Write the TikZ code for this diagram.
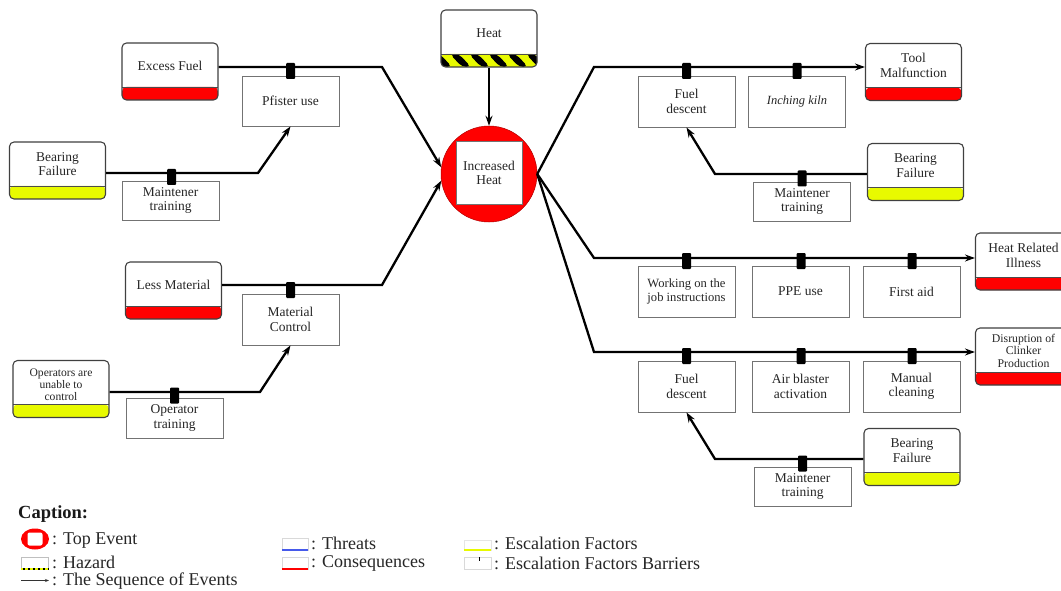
\documentclass[tikz,border=0pt]{standalone}
\usepackage{fontspec}
\setmainfont{Liberation Serif}
\usetikzlibrary{arrows.meta,calc,shapes.geometric}
\definecolor{hzyellow}{RGB}{232,250,0}
\definecolor{cred}{RGB}{255,0,0}
\definecolor{tblue}{RGB}{70,90,235}
\begin{document}
\begin{tikzpicture}[x=1pt,y=-1pt,
  txt/.style={font=\fontsize{13.5}{14.5}\selectfont, align=center, text=black!85, inner sep=0pt},
  smalltxt/.style={font=\fontsize{11.6}{12}\selectfont, align=center, text=black!85, inner sep=0pt},
  evbox/.style={draw=black!75, line width=1.1pt, rounded corners=4.5pt, fill=white, minimum width=96pt, minimum height=57pt, inner sep=0pt},
  evband/.style={path picture={
     \fill[#1] (path picture bounding box.south west) rectangle ([yshift=13pt]path picture bounding box.south east);
     \draw[black!70, line width=0.6pt] ([yshift=13pt]path picture bounding box.south west) -- ([yshift=13pt]path picture bounding box.south east);}},
  hazband/.style={path picture={
     \fill[hzyellow] (path picture bounding box.south west) rectangle ([yshift=13pt]path picture bounding box.south east);
     \foreach \i in {0,...,6}{\fill[black] ([xshift=\i*19pt-10pt, yshift=13pt]path picture bounding box.south west) -- ++(9pt,0pt) -- ++(12pt,-13pt) -- ++(-9pt,0pt) -- cycle;}
     \draw[black!70, line width=0.6pt] ([yshift=13pt]path picture bounding box.south west) -- ([yshift=13pt]path picture bounding box.south east);}},
  bbox/.style={draw=black!55, line width=0.9pt, fill=white, minimum width=97pt, minimum height=51pt, inner sep=0pt, align=center, font=\fontsize{13.5}{14.5}\selectfont, text=black!85},
  barmark/.style={fill=black, minimum width=9pt, minimum height=16pt, inner sep=0pt, rounded corners=1pt},
  flow/.style={line width=2.3pt, black},
  arr/.style={flow, -{Stealth[length=10pt,width=7pt]}},
  lgt/.style={font=\fontsize{18}{18}\selectfont, anchor=west, inner sep=0pt, text=black!85}]

\clip (0,0) rectangle (1061,591);
\fill[white] (0,0) rectangle (1061,591);

% ---------- top event and hazard ----------
\node[circle, fill=cred, draw=red!70!black, line width=0.5pt, minimum size=96pt, inner sep=0pt] (te) at (489,174) {};
\node[draw=black!55, line width=0.8pt, fill=white, minimum width=66pt, minimum height=63pt, inner sep=0pt, align=center, font=\fontsize{13.5}{14.5}\selectfont, text=black!85] (tes) at (489,173) {Increased\\Heat};
\node[evbox, hazband] (hz) at (489,38.5) {};
\node[txt] (hz-t) at (489,33.5) {Heat};

% ---------- event boxes ----------
\node[evbox, evband=cred] (ef) at (170,71.5) {};
\node[txt] (ef-t) at (170,65.5) {Excess Fuel};
\node[evbox, evband=hzyellow] (bfl) at (57.5,170.5) {};
\node[txt] (bfl-t) at (57.5,164) {Bearing\\Failure};
\node[evbox, evband=cred] (lm) at (173.5,290.5) {};
\node[txt] (lm-t) at (173.5,284.5) {Less Material};
\node[evbox, evband=hzyellow] (opc) at (61,389) {};
\node[smalltxt] (opc-t) at (61,384.5) {Operators are\\unable to\\control};

\node[evbox, evband=cred] (tm) at (913.5,72) {};
\node[txt] (tm-t) at (913.5,65.5) {Tool\\Malfunction};
\node[evbox, evband=hzyellow] (bfrt) at (915.5,172) {};
\node[txt] (bfrt-t) at (915.5,165.5) {Bearing\\Failure};
\node[evbox, evband=cred] (hri) at (1023.5,261.5) {};
\node[txt] (hri-t) at (1023.5,255.5) {Heat Related\\Illness};
\node[evbox, evband=cred] (dcp) at (1023.5,356.5) {};
\node[smalltxt, font=\fontsize{11.8}{12.5}\selectfont] (dcp-t) at (1023.5,350.5) {Disruption of\\Clinker\\Production};
\node[evbox, evband=hzyellow] (bfrb) at (912,457) {};
\node[txt] (bfrb-t) at (912,450.5) {Bearing\\Failure};

% ---------- barrier boxes ----------
\node[bbox, minimum height=50pt] (pf) at (290.5,101) {Pfister use};
\node[bbox, minimum height=39pt] (mtl) at (170.5,200.5) {Maintener\\training};
\node[bbox] (mc) at (290.5,319.5) {Material\\Control};
\node[bbox, minimum height=40pt] (ot) at (174.5,418) {Operator\\training};

\node[bbox] (fdt) at (686.5,101.5) {Fuel\\descent};
\node[bbox, font=\itshape\fontsize{12.5}{14}\selectfont] (ik) at (797,101.5) {Inching kiln};
\node[bbox, minimum height=39pt] (mtrt) at (802,201.5) {Maintener\\training};
\node[bbox, font=\fontsize{12.6}{14}\selectfont] (wj) at (686.5,291.5) {Working on the\\job instructions};
\node[bbox] (ppe) at (800.5,291.5) {PPE use};
\node[bbox] (fa) at (911.5,291.5) {First aid};
\node[bbox] (fdb) at (686.5,386.5) {Fuel\\descent};
\node[bbox] (ab) at (800.5,386.5) {Air blaster\\activation};
\node[bbox] (mcl) at (911.5,386.5) {Manual\\cleaning};
\node[bbox, minimum height=39pt] (mtrb) at (802.5,486.5) {Maintener\\training};

% ---------- connectors ----------
\draw[arr] (ef.east |- 0,67) -- (382,67) -- (te.172);
\draw[arr] (bfl.east |- 0,173) -- (258,173) -- (pf.south);
\draw[arr] (lm.east |- 0,285) -- (382,285) -- (te.188);
\draw[arr] (opc.east |- 0,392) -- (260,392) -- (mc.south);
\draw[arr] (hz.south) -- (te.north);
\draw[arr] (te.east) -- (594,67) -- (tm.west |- 0,67);
\draw[arr] (bfrt.west |- 0,174) -- (715,174) -- (fdt.south);
\draw[arr] (te.east) -- (594,258) -- (hri.west |- 0,258);
\draw[arr] (te.east) -- (594,352) -- (dcp.west |- 0,352);
\draw[arr] (bfrb.west |- 0,459) -- (715,459) -- (fdb.south);

% ---------- barrier markers ----------
\node[barmark] (m1) at (290.5,71) {};
\node[barmark] (m2) at (171.5,177) {};
\node[barmark] (m3) at (290.5,290) {};
\node[barmark] (m4) at (174.5,395.5) {};
\node[barmark] (m5) at (686.5,71) {};
\node[barmark] (m6) at (797,71) {};
\node[barmark] (m7) at (802,178.5) {};
\node[barmark] (m8) at (686.5,261) {};
\node[barmark] (m9) at (801,261) {};
\node[barmark] (m10) at (912,261) {};
\node[barmark] (m11) at (686.5,356) {};
\node[barmark] (m12) at (801,356) {};
\node[barmark] (m13) at (912,356) {};
\node[barmark] (m14) at (802.5,463.5) {};

% ---------- legend ----------
\node[font=\bfseries\fontsize{18.5}{20}\selectfont, anchor=west, inner sep=0pt, text=black!90] (cap) at (18,514) {Caption:};

\node[ellipse, fill=cred, minimum width=28pt, minimum height=21pt, inner sep=0pt] (lg1) at (35,539) {};
\node[fill=white, minimum width=15pt, minimum height=13pt, inner sep=0pt, rounded corners=2pt] (lg1i) at (35,539) {};
\node[lgt] (lg1t) at (52,540.5) {: Top Event};

\node[draw=black!25, line width=0.5pt, minimum width=27pt, minimum height=12pt, inner sep=0pt] (lg2) at (34.5,563) {};
\draw[hzyellow, line width=2.2pt] (lg2.south west) -- (lg2.south east);
\draw[black, line width=2.2pt, dash pattern=on 2.5pt off 2.5pt] ([xshift=2pt]lg2.south west) -- (lg2.south east);
\node[lgt] (lg2t) at (52,562) {: Hazard};

\coordinate (lg3a) at (21,580.5);
\coordinate (lg3b) at (49,580.5);
\draw[line width=0.7pt, black!80, -{Stealth[length=4pt,width=3pt]}] (lg3a) -- (lg3b);
\node[lgt] (lg3t) at (52,581) {: The Sequence of Events};

\node[draw=black!15, line width=0.5pt, minimum width=26pt, minimum height=12pt, inner sep=0pt] (lg4) at (295,544) {};
\draw[tblue, line width=2.2pt] (lg4.south west) -- (lg4.south east);
\node[lgt] (lg4t) at (311,543.5) {: Threats};

\node[draw=black!15, line width=0.5pt, minimum width=26pt, minimum height=12pt, inner sep=0pt] (lg5) at (295,563) {};
\draw[cred, line width=2.2pt] (lg5.south west) -- (lg5.south east);
\node[lgt] (lg5t) at (311,563.5) {: Consequences};

\node[draw=black!10, line width=0.5pt, minimum width=27pt, minimum height=10pt, inner sep=0pt] (lg6) at (477.5,545) {};
\draw[hzyellow, line width=2.2pt] (lg6.south west) -- (lg6.south east);
\node[lgt] (lg6t) at (494,543.5) {: Escalation Factors};

\node[draw=black!15, line width=0.5pt, minimum width=27pt, minimum height=12pt, inner sep=0pt] (lg7) at (477.5,563) {};
\node[fill=black, minimum width=1.6pt, minimum height=4pt, inner sep=0pt] (lg7m) at (479.5,559) {};
\node[lgt] (lg7t) at (494,563.5) {: Escalation Factors Barriers};
\end{tikzpicture}
\end{document}
